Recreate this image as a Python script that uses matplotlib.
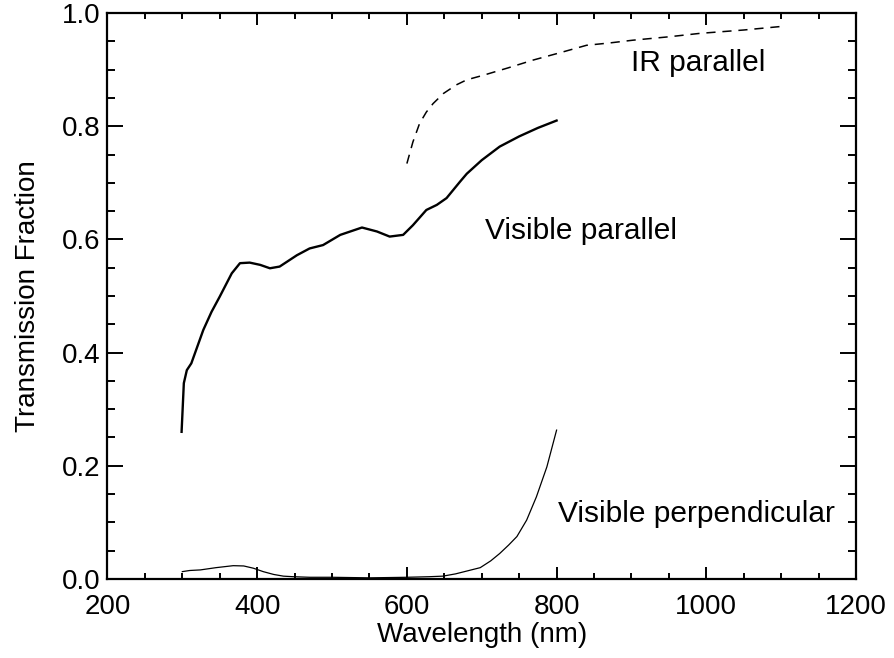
import matplotlib.pyplot as plt
from matplotlib.ticker import MultipleLocator

plt.rcParams['font.family'] = ['Liberation Sans', 'DejaVu Sans']

# visible parallel (solid, thick)
vis_par_x = [299, 302, 306, 312, 328, 339, 350, 366, 377, 390, 404, 417, 430,
             453, 470, 488, 511, 540, 560, 577, 595, 608, 626, 640, 653, 671,
             680, 700, 724, 750, 775, 800]
vis_par_y = [0.26, 0.346, 0.369, 0.381, 0.44, 0.472, 0.499, 0.54, 0.558, 0.559,
             0.555, 0.549, 0.552, 0.572, 0.584, 0.59, 0.608, 0.621, 0.614, 0.605,
             0.608, 0.625, 0.652, 0.661, 0.673, 0.702, 0.716, 0.74, 0.764,
             0.782, 0.797, 0.81]

# IR parallel (dashed)
ir_x = [600, 608, 617, 626, 635, 649, 666, 680, 702, 735, 769, 805, 840, 870,
        902, 950, 991, 1050, 1098]
ir_y = [0.734, 0.772, 0.805, 0.825, 0.84, 0.858, 0.873, 0.882, 0.89, 0.903,
        0.917, 0.93, 0.943, 0.947, 0.952, 0.958, 0.964, 0.97, 0.976]

# visible perpendicular (thin)
vis_perp_x = [300, 310, 324, 345, 368, 382, 395, 408, 422, 435, 448, 470, 500,
              550, 600, 630, 648, 665, 680, 698, 712, 724, 736, 747, 760, 773,
              787, 800]
vis_perp_y = [0.013, 0.015, 0.016, 0.02, 0.0235, 0.023, 0.019, 0.013, 0.008,
              0.005, 0.004, 0.003, 0.003, 0.002, 0.003, 0.004, 0.005, 0.009,
              0.014, 0.02, 0.032, 0.045, 0.06, 0.075, 0.104, 0.145, 0.198, 0.263]

fig = plt.figure(figsize=(8.95, 6.58), dpi=100)
ax = fig.add_axes([0.1201, 0.1201, 0.8363, 0.8601])

ax.plot(vis_par_x, vis_par_y, color='black', linewidth=1.7)
ax.plot(ir_x, ir_y, color='black', linewidth=1.1, dashes=(6, 4.5))
ax.plot(vis_perp_x, vis_perp_y, color='black', linewidth=0.9)

ax.text(900, 0.912, 'IR parallel', fontsize=21.5, va='center')
ax.text(704, 0.614, 'Visible parallel', fontsize=21.5, va='center')
ax.text(802, 0.115, 'Visible perpendicular', fontsize=21.5, va='center')

ax.set_xlim(200, 1200)
ax.set_ylim(0, 1.0)
ax.xaxis.set_major_locator(MultipleLocator(200))
ax.xaxis.set_minor_locator(MultipleLocator(50))
ax.yaxis.set_major_locator(MultipleLocator(0.2))
ax.yaxis.set_minor_locator(MultipleLocator(0.05))
ax.yaxis.set_major_formatter(plt.FormatStrFormatter('%.1f'))
ax.tick_params(which='both', direction='in', top=True, right=True, width=1.4,
               labelsize=20)
ax.tick_params(axis='x', which='major', length=8.6, pad=11)
ax.tick_params(axis='x', which='minor', length=4.3)
ax.tick_params(axis='y', which='major', length=11.5, pad=5)
ax.tick_params(axis='y', which='minor', length=5.8)
for s in ax.spines.values():
    s.set_linewidth(1.6)

ax.set_xlabel('Wavelength (nm)', fontsize=20, labelpad=1)
ax.set_ylabel('Transmission Fraction', fontsize=20, labelpad=15)

fig.savefig('out.png', dpi=100)
